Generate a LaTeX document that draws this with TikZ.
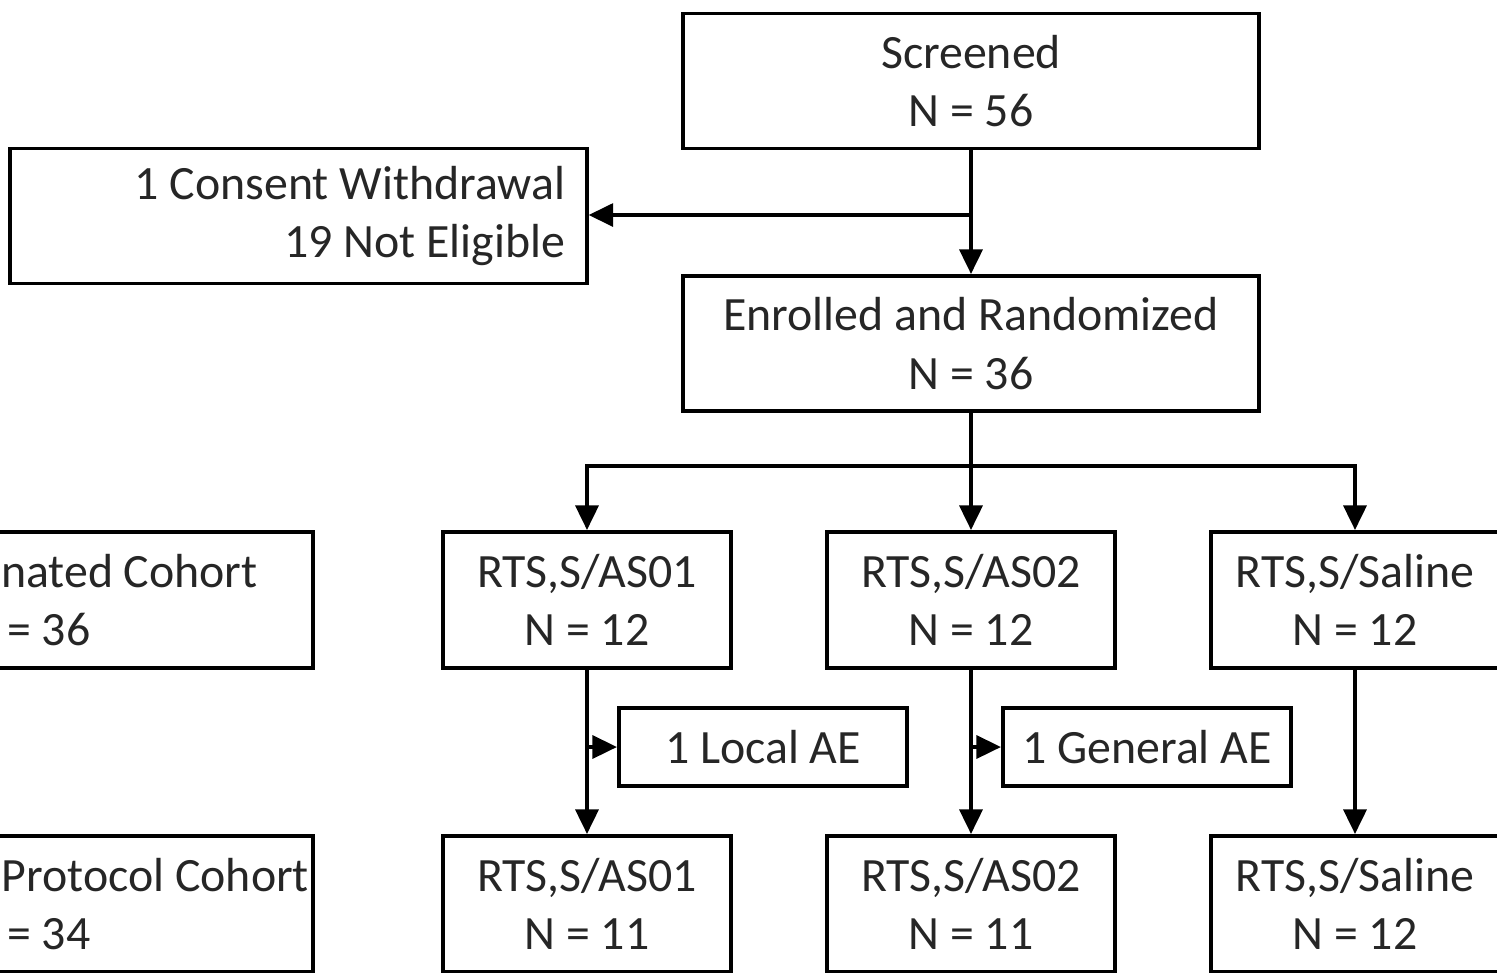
\documentclass[tikz,border=0pt]{standalone}
\usepackage{fontspec}
\setmainfont{Carlito}
\usetikzlibrary{arrows.meta}
\begin{document}
\begin{tikzpicture}[x=0.01cm,y=-0.01cm,
  txt/.style={align=center,inner sep=0pt,font=\fontsize{13.6}{16.6}\selectfont,text=black!85},
  box/.style={txt,draw=black,line width=1.1pt},
  big/.style={box,minimum width=5.76cm,minimum height=1.35cm},
  arm/.style={box,minimum width=2.88cm,minimum height=1.36cm},
  ae/.style={box,minimum width=2.88cm,minimum height=0.78cm},
  cohort/.style={box,minimum width=5.7cm,minimum height=1.36cm,anchor=east},
  conn/.style={line width=1.1pt,-{Triangle[length=7pt,width=6.5pt]}},
  line/.style={line width=1.1pt}]
\useasboundingbox (0,0) rectangle (1497,972);
\clip (0,0) rectangle (1497,972);
\node[big] (scr) at (971,81) {Screened\\N = 56};
\node[big] (exc) at (298.5,216) {};
\node[txt,align=right,anchor=east] (exctxt) at (566,216) {1 Consent Withdrawal\\19 Not Eligible};
\node[big] (enr) at (971,343.5) {Enrolled and Randomized\\N = 36};
\node[cohort] (tvc) at (315,600) {Total Vaccinated Cohort\\N = 36};
\node[arm] (a1) at (587,600) {RTS,S/AS01\\N = 12};
\node[arm] (a2) at (971,600) {RTS,S/AS02\\N = 12};
\node[arm] (a3) at (1355,600) {RTS,S/Saline\\N = 12};
\node[ae] (ae1) at (763,747) {1 Local AE};
\node[ae] (ae2) at (1147,747) {1 General AE};
\node[cohort] (atp) at (315,904) {According to Protocol Cohort\\N = 34};
\node[arm] (b1) at (587,904) {RTS,S/AS01\\N = 11};
\node[arm] (b2) at (971,904) {RTS,S/AS02\\N = 11};
\node[arm] (b3) at (1355,904) {RTS,S/Saline\\N = 12};
% screened -> enrolled, exclusions
\draw[conn] (scr.south) -- (enr.north);
\coordinate (j1) at (971,215);
\draw[conn] (j1) -- (exc.east |- j1);
% randomisation
\coordinate (j2) at (971,466);
\draw[line] (enr.south) -- (j2);
\draw[conn] (j2) -| (a1.north);
\draw[conn] (j2) -- (a2.north);
\draw[conn] (j2) -| (a3.north);
% follow-up
\draw[conn] (a1.south) -- (b1.north);
\draw[conn] (a2.south) -- (b2.north);
\draw[conn] (a3.south) -- (b3.north);
\coordinate (k1) at (587,747);
\coordinate (k2) at (971,747);
\draw[conn] (k1) -- (ae1.west);
\draw[conn] (k2) -- (ae2.west);
\end{tikzpicture}
\end{document}
